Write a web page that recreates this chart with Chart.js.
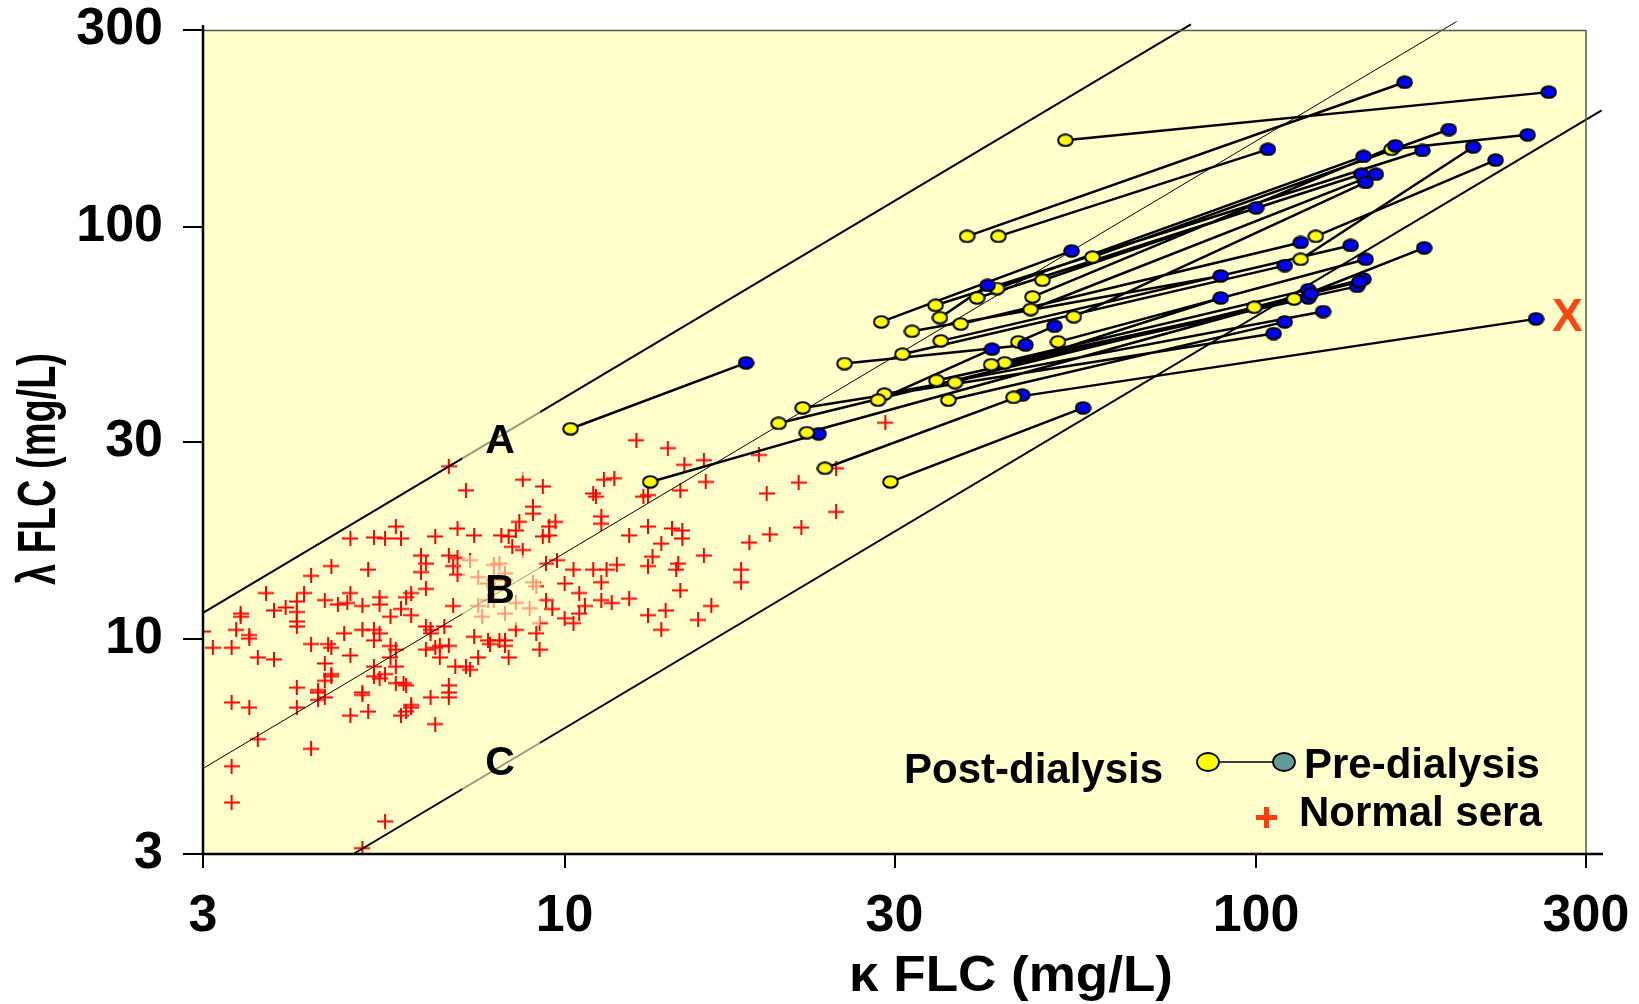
<!DOCTYPE html>
<html>
<head>
<meta charset="utf-8">
<title>FLC pre/post dialysis</title>
<script src="https://cdn.jsdelivr.net/npm/chart.js@4.4.1/dist/chart.umd.min.js"></script>
<style>
    html, body { margin: 0; padding: 0; background: #ffffff; }
    #wrap { width: 1639px; height: 1004px; }
</style>
</head>
<body>
<div id="wrap"><canvas id="flcChart" width="1639" height="1004"></canvas></div>
<script>
// axis ticks (mg/L)
const tickValues = [3, 10, 30, 100, 300];

// reference lines: kappa/lambda ratio and kappa range drawn
const refLabels = ["A", "B", "C"];
const refRatios = [0.26, 0.62, 1.65];
const refKappaStart = [3, 3, 4.95];
const refKappaEnd = [80.5, 195, 316];
const refLabelKappa = 8.07;
const refLabelLambda = [30.2, 13.1, 5.0];

// patients: post-dialysis (yellow) -> pre-dialysis (blue), paired by index
const postKappa = [53, 38.2, 42.4, 10.2, 122, 116, 157, 58, 29.6, 13.3,
    23.8, 44.6, 113.5, 99.4, 49.1, 42.2, 47.5, 39.5, 34.4, 47.2,
    54.5, 28.7, 34.9, 37.4, 31.8, 35, 45.3, 51.7, 30.8, 25.4,
    43.3, 41.4, 34.5, 36.7, 29, 28.4, 35.9, 22.1, 20.4, 22.4];
const postLambda = [162, 94.7, 94.7, 32.3, 94.7, 83.3, 154, 84.3, 24, 24,
    25.9, 38.5, 66.7, 63.7, 74.1, 70.7, 67.5, 67.1, 64.4, 62.9,
    60.4, 58.7, 60.1, 58, 55.7, 52.8, 52.5, 52.5, 49, 46.5,
    46.7, 46.2, 42.3, 41.8, 39.2, 37.9, 37.9, 36.3, 33.3, 31.6];
const preKappa = [265, 164, 104, 18.3, 222, 206, 247, 190, 56.2, 23.3,
    45.9, 254, 175, 143, 100, 143, 159, 142, 174, 149,
    144, 54.1, 40.9, 116, 88.9, 137, 51.1, 144, 110, 46.4,
    140, 119, 119, 88.9, 125, 41.5, 110, 106, 141, 120];
const preLambda = [212, 224, 154, 46.7, 145, 156, 167, 172, 36.3, 31.4,
    39, 59.7, 88.8, 74.6, 111, 148, 157, 134, 153, 134,
    128, 87.3, 72, 91.5, 75.9, 90, 57.3, 83.3, 80.4, 51.6,
    71.6, 70.3, 67.1, 67.1, 62.2, 50.4, 58.7, 55, 73.5, 68.7];

// the patient marked X
const flaggedKappa = 282;
const flaggedLambda = 60;

// normal sera
const normalKappa = [12.7, 14.1, 14.9, 15.9, 19.1, 21.8, 19.6, 24.7, 22.0, 19.8,
    18.5, 18.0, 18.0, 15.9, 29.1, 24.7, 14.7, 16.0, 13.2, 13.0,
    11.1, 11.0, 11.4, 11.8, 11.3, 11.3, 13.2, 14.3, 14.8, 14.8,
    12.4, 13.8, 13.4, 13.2, 11.9, 11.5, 11.0, 14.6, 14.5, 11.3,
    11.3, 11.7, 10.5, 10.3, 10.0, 9.75, 9.4, 9.5, 9.7, 9.3,
    9.5, 9.0, 9.0, 8.7, 9.3, 8.6, 8.5, 8.3, 8.1, 8.4,
    8.7, 7.4, 7.0, 7.2, 6.8, 6.5, 5.7, 5.8, 5.5, 4.9,
    5.3, 6.2, 6.3, 6.2, 7.0, 6.9, 7.0, 6.8, 5.2, 4.6,
    4.3, 3.7, 4.2, 4.5, 4.9, 4.85, 4.7, 5.1, 5.4, 5.4,
    5.9, 6.0, 6.3, 5.8, 5.6, 6.0, 6.4, 6.3, 6.7, 6.9,
    7.5, 7.75, 7.9, 8.2, 8.05, 7.9, 9.0, 9.4, 9.6, 9.2,
    9.1, 10.0, 10.3, 10.5, 10.7, 12.4, 13.2, 14.0, 13.8, 15.6,
    16.3, 14.7, 3.8, 3.95, 4.1, 4.1, 4.1, 3.4, 3.4, 3.0,
    3.1, 3.3, 3.35, 3.5, 3.5, 3.6, 3.8, 4.3, 4.55, 4.6,
    4.8, 5.1, 5.3, 5.4, 5.3, 4.9, 4.5, 4.6, 4.6, 5.3,
    5.3, 5.4, 5.5, 5.6, 5.6, 5.7, 5.7, 5.7, 5.85, 5.9,
    6.4, 6.5, 6.6, 6.95, 7.2, 7.3, 7.5, 7.8, 8.05, 8.2,
    8.2, 8.3, 8.5, 9.2, 7.4, 7.75, 6.8, 6.3, 6.6, 4.5,
    4.4, 4.1, 4.4, 4.4, 4.1, 4.5, 5.1, 5.1, 4.9, 5.2,
    5.8, 5.9, 6.0, 6.0, 6.4, 6.8, 6.8, 6.8, 6.5, 4.3,
    3.6, 3.5, 3.3, 3.3, 3.3, 5.5, 5.1, 4.1, 7.3, 7.5,
    7.75, 8.2, 7.9, 8.5, 8.9, 7.6, 7.9, 8.2, 9.1];
const normalLambda = [30.3, 29.0, 26.4, 27.1, 27.9, 23.9, 22.5, 20.3, 18.6, 17.9,
    17.1, 14.7, 13.7, 15.9, 33.4, 25.9, 22.9, 24.0, 22.3, 22.1,
    22.1, 22.5, 24.3, 24.5, 19.8, 19.0, 18.7, 18.5, 18.3, 17.5,
    17.8, 17.0, 15.8, 15.0, 15.1, 14.7, 14.7, 15.2, 14.7, 13.7,
    12.4, 12.2, 12.9, 14.7, 13.6, 15.5, 15.2, 18.7, 19.2, 17.7,
    17.8, 20.9, 20.1, 24.3, 23.4, 19.2, 18.3, 17.7, 17.8, 16.7,
    16.4, 17.8, 18.5, 22.9, 26.2, 17.7, 18.7, 17.5, 17.5, 17.5,
    17.6, 15.9, 15.2, 14.5, 15.7, 15.0, 14.3, 15.9, 14.7, 15.0,
    14.2, 12.9, 12.9, 12.4, 12.9, 12.2, 12.1, 12.0, 12.1, 12.6,
    12.6, 12.9, 13.2, 11.8, 11.3, 11.4, 10.5, 10.7, 10.7, 12.0,
    12.0, 12.4, 13.9, 13.9, 15.2, 15.1, 13.7, 12.4, 11.8, 10.9,
    10.3, 11.2, 10.9, 11.5, 12.0, 12.5, 11.4, 11.7, 10.5, 11.1,
    12.0, 13.1, 11.7, 11.9, 11.6, 11.0, 10.7, 11.5, 11.3, 10.4,
    9.5, 9.5, 10.5, 10.2, 10.0, 9.0, 8.9, 9.7, 9.7, 9.5,
    10.3, 10.5, 10.5, 10.3, 9.9, 9.1, 8.7, 8.2, 8.1, 8.55,
    8.1, 8.0, 8.2, 9.0, 9.6, 9.4, 8.55, 7.8, 7.8, 7.7,
    10.3, 9.5, 9.6, 8.55, 8.55, 8.4, 9.0, 9.7, 9.9, 9.9,
    9.6, 9.0, 10.5, 9.4, 10.1, 9.9, 9.6, 9.4, 9.0, 7.9,
    7.5, 7.6, 7.4, 7.1, 6.8, 7.2, 7.4, 7.3, 6.5, 6.65,
    6.5, 6.65, 6.8, 6.9, 7.2, 7.4, 7.2, 7.7, 6.2, 5.4,
    5.7, 6.8, 7.0, 4.9, 4.0, 3.6, 3.1, 12.3, 15.5, 14.1,
    13.6, 14.4, 13.4, 12.2, 11.85, 11.3, 12.4, 11.5, 13.4];

const FONT = '"Liberation Sans", Arial, Helvetica, sans-serif';

function makeEllipse(w, h, fill) {
    const c = document.createElement("canvas");
    c.width = w;
    c.height = h;
    const g = c.getContext("2d");
    g.beginPath();
    g.ellipse(w / 2, h / 2, w / 2 - 1.2, h / 2 - 1.2, 0, 0, Math.PI * 2);
    g.fillStyle = fill;
    g.fill();
    g.lineWidth = 2;
    g.strokeStyle = "#000000";
    g.stroke();
    return c;
}

function makeCross(w, h, color) {
    const c = document.createElement("canvas");
    c.width = w;
    c.height = h;
    const g = c.getContext("2d");
    g.strokeStyle = color;
    g.lineWidth = 2;
    g.beginPath();
    g.moveTo(0, h / 2);
    g.lineTo(w, h / 2);
    g.moveTo(w / 2, 0);
    g.lineTo(w / 2, h);
    g.stroke();
    return c;
}

const yellowDot = makeEllipse(17, 14, "#ffff00");
const blueDot = makeEllipse(17, 14, "#0000ff");
const redCross = makeCross(16, 15, "#ff0000");

function buildPatientData() {
    const points = [];
    postKappa.forEach((k, i) => {
        points.push({ x: k, y: postLambda[i], kind: "post" });
        points.push({ x: preKappa[i], y: preLambda[i], kind: "pre" });
        points.push({ x: preKappa[i], y: null, kind: "gap" });
    });
    return points;
}

function drawFitted(ctx, text, cx, cy, font, width, vertical) {
    ctx.save();
    ctx.translate(cx, cy);
    if (vertical) ctx.rotate(-Math.PI / 2);
    ctx.font = font;
    const natural = ctx.measureText(text).width;
    ctx.scale(width / natural, 1);
    ctx.textAlign = "center";
    ctx.textBaseline = "middle";
    ctx.fillStyle = "#000000";
    ctx.fillText(text, 0, 0);
    ctx.restore();
}

const framePlugin = {
    id: "frame",
    beforeDraw(chart) {
        const { ctx, chartArea: a } = chart;
        ctx.save();
        ctx.fillStyle = "#ffffcc";
        ctx.fillRect(a.left, a.top, a.right - a.left, a.bottom - a.top);
        ctx.restore();
    },
    afterDatasetsDraw(chart) {
        const { ctx, chartArea: a } = chart;
        const xs = chart.scales.x;
        const ys = chart.scales.y;

        // A / B / C labels sit on a half see-through box
        const lx = xs.getPixelForValue(refLabelKappa);
        ctx.save();
        refLabels.forEach((label, i) => {
            const ly = ys.getPixelForValue(refLabelLambda[i]);
            ctx.fillStyle = "rgba(255,255,204,0.6)";
            ctx.fillRect(lx - 38, ly - 35, 78, 70);
            ctx.fillStyle = "#000000";
            ctx.font = "bold 41px " + FONT;
            ctx.textAlign = "center";
            ctx.textBaseline = "middle";
            ctx.fillText(label, lx, ly + 1);
        });

        // frame
        ctx.strokeStyle = "#555555";
        ctx.lineWidth = 1.5;
        ctx.beginPath();
        ctx.moveTo(a.left, a.top + 0.5);
        ctx.lineTo(a.right, a.top + 0.5);
        ctx.moveTo(a.right, a.top);
        ctx.lineTo(a.right, a.bottom);
        ctx.stroke();
        ctx.strokeStyle = "#000000";
        ctx.lineWidth = 2.5;
        ctx.beginPath();
        ctx.moveTo(a.left, a.top - 5);
        ctx.lineTo(a.left, a.bottom + 1);
        ctx.moveTo(a.left - 1, a.bottom);
        ctx.lineTo(a.right + 17, a.bottom);
        ctx.stroke();

        // X marker beside the flagged patient
        ctx.fillStyle = "#ff4510";
        ctx.font = "bold 46px " + FONT;
        ctx.textAlign = "center";
        ctx.textBaseline = "middle";
        ctx.fillText("X", xs.getPixelForValue(flaggedKappa), ys.getPixelForValue(flaggedLambda));

        // legend
        ctx.fillStyle = "#000000";
        ctx.font = "bold 42px " + FONT;
        ctx.textAlign = "left";
        ctx.fillText("Post-dialysis", 904, 771);
        ctx.fillText("Pre-dialysis", 1304, 766);
        ctx.fillText("Normal sera", 1299, 814);
        ctx.lineWidth = 1.5;
        ctx.beginPath();
        ctx.moveTo(1218, 762);
        ctx.lineTo(1274, 762);
        ctx.stroke();
        [[1208, "#ffff00"], [1284, "#639b9b"]].forEach(([cx, fill]) => {
            ctx.beginPath();
            ctx.ellipse(cx, 762, 11, 9, 0, 0, Math.PI * 2);
            ctx.fillStyle = fill;
            ctx.fill();
            ctx.lineWidth = 1.8;
            ctx.strokeStyle = "#000000";
            ctx.stroke();
        });
        ctx.fillStyle = "#ff3c10";
        ctx.fillRect(1256, 815, 21, 5);
        ctx.fillRect(1264, 807, 5, 21);

        // axis titles
        drawFitted(ctx, "\u03bb FLC (mg/L)", 40, 469, "bold 54px " + FONT, 232, true);
        drawFitted(ctx, "\u03ba FLC (mg/L)", 1011, 977, "bold 50px " + FONT, 324, false);
        ctx.restore();
    }
};

function axisOptions(position, tickLength, padding, fitSize) {
    return {
        type: "logarithmic",
        position: position,
        min: 3,
        max: 300,
        afterBuildTicks: (scale) => {
            scale.ticks = tickValues.map((v) => ({ value: v }));
        },
        afterFit: (scale) => {
            if (position === "left") {
                scale.width = fitSize;
            } else {
                scale.height = fitSize;
            }
            // keep the plot box where the layout padding puts it
            scale.paddingTop = 0;
            scale.paddingBottom = 0;
            scale.paddingLeft = 0;
            scale.paddingRight = 0;
        },
        border: { display: false },
        grid: {
            drawOnChartArea: false,
            drawTicks: true,
            tickLength: tickLength,
            color: "#000000",
            lineWidth: 2
        },
        ticks: {
            autoSkip: false,
            maxRotation: 0,
            padding: padding,
            color: "#000000",
            font: { family: FONT, size: 52, weight: "bold", lineHeight: 1.1 },
            callback: (value) => String(value)
        }
    };
}

function renderFlcChart() {
    const ctx = document.getElementById("flcChart");
    if (!ctx) return;

    const refDatasets = refRatios.map((ratio, i) => ({
        label: "Ratio " + refLabels[i],
        data: [
            { x: refKappaStart[i], y: refKappaStart[i] / ratio },
            { x: refKappaEnd[i], y: refKappaEnd[i] / ratio }
        ],
        showLine: true,
        borderColor: "#000000",
        borderWidth: i === 1 ? 1 : 2,
        pointRadius: 0,
        clip: false,
        order: 2
    }));

    new Chart(ctx, {
        type: "scatter",
        data: {
            datasets: [
                {
                    label: "Dialysis",
                    data: buildPatientData(),
                    showLine: true,
                    spanGaps: false,
                    borderColor: "#000000",
                    borderWidth: 2.5,
                    pointStyle: (c) => (c.raw && c.raw.kind === "pre" ? blueDot : yellowDot),
                    pointRadius: 8,
                    order: 1
                },
                ...refDatasets,
                {
                    label: "Normal sera",
                    data: normalKappa.map((k, i) => ({ x: k, y: normalLambda[i] })),
                    pointStyle: redCross,
                    pointRadius: 8,
                    order: 3
                }
            ]
        },
        options: {
            responsive: false,
            animation: false,
            devicePixelRatio: 1,
            events: [],
            layout: { padding: { left: 0, top: 30, right: 53, bottom: 0 } },
            plugins: {
                legend: { display: false },
                tooltip: { enabled: false }
            },
            scales: {
                x: axisOptions("bottom", 14, 20, 150),
                y: axisOptions("left", 20, 20, 203)
            }
        },
        plugins: [framePlugin]
    });
}

document.addEventListener("DOMContentLoaded", renderFlcChart);
</script>
</body>
</html>
